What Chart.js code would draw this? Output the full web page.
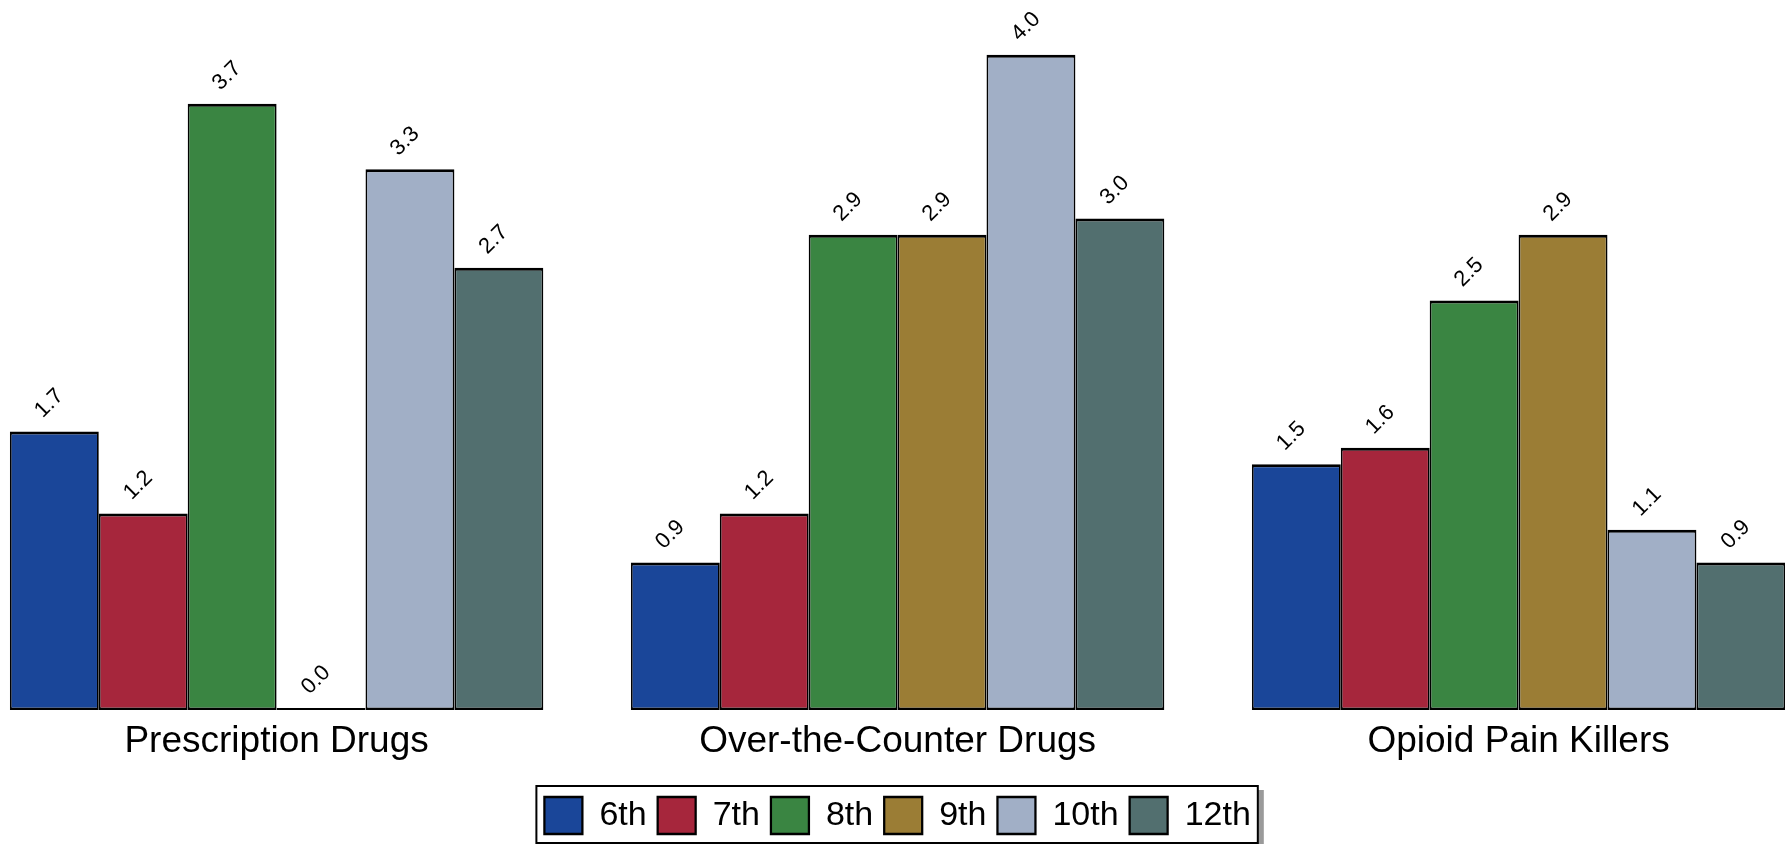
<!DOCTYPE html>
<html>
<head>
<meta charset="utf-8">
<title>Substance use by grade</title>
<script src="https://cdn.jsdelivr.net/npm/chart.js@4"></script>
<style>
  html, body { margin: 0; padding: 0; background: #fff; }
  #wrap { width: 1785px; height: 844px; position: relative; }
</style>
</head>
<body>
<div id="wrap"><canvas id="chart"></canvas></div>
<script>
// categories and per-grade values (percent)
const CATEGORIES = ["Prescription Drugs", "Over-the-Counter Drugs", "Opioid Pain Killers"];
const GRADES = ["6th", "7th", "8th", "9th", "10th", "12th"];
const GRADE_6 = [1.7, 0.9, 1.5];
const GRADE_7 = [1.2, 1.2, 1.6];
const GRADE_8 = [3.7, 2.9, 2.5];
const GRADE_9 = [0.0, 2.9, 2.9];
const GRADE_10 = [3.3, 4.0, 1.1];
const GRADE_12 = [2.7, 3.0, 0.9];
const COLORS = ["#1a4699", "#a6263c", "#3a8542", "#9b7d35", "#a1afc6", "#526f6f"];

const FONT = "'Liberation Sans', Arial, sans-serif";
const series = [GRADE_6, GRADE_7, GRADE_8, GRADE_9, GRADE_10, GRADE_12];

// rotated value labels above each bar
const valueLabels = {
  id: "valueLabels",
  afterDatasetsDraw(chart) {
    const ctx = chart.ctx;
    ctx.save();
    ctx.font = "22px " + FONT;
    ctx.fillStyle = "#000";
    ctx.textAlign = "center";
    ctx.textBaseline = "middle";
    chart.data.datasets.forEach((ds, i) => {
      const meta = chart.getDatasetMeta(i);
      meta.data.forEach((bar, j) => {
        ctx.save();
        ctx.translate(bar.x - 5, bar.y - 28);
        ctx.rotate(-Math.PI / 4);
        ctx.fillText(ds.data[j].toFixed(1), 0, 0);
        ctx.restore();
      });
    });
    ctx.restore();
  }
};

// frame + drop shadow around the legend
function legendFrame(chart) {
  const boxes = chart.legend && chart.legend.legendHitBoxes;
  if (!boxes || !boxes.length) return null;
  const left = Math.min(...boxes.map(b => b.left)) - 8;
  const right = Math.max(...boxes.map(b => b.left + b.width)) + 7;
  const top = boxes[0].top - 11;
  return { left, top, width: right - left, height: 57 };
}
const legendBox = {
  id: "legendBox",
  beforeDraw(chart) {
    const f = legendFrame(chart);
    if (!f) return;
    const ctx = chart.ctx;
    ctx.save();
    ctx.fillStyle = "#9a9a9a";
    ctx.fillRect(f.left + 6, f.top + 4, f.width, f.height);
    ctx.fillStyle = "#fff";
    ctx.fillRect(f.left, f.top, f.width, f.height);
    ctx.restore();
  },
  afterDraw(chart) {
    const f = legendFrame(chart);
    if (!f) return;
    const ctx = chart.ctx;
    ctx.save();
    ctx.strokeStyle = "#000";
    ctx.lineWidth = 2;
    ctx.strokeRect(f.left, f.top, f.width, f.height);
    ctx.restore();
  }
};

const ctx = document.getElementById("chart").getContext("2d");
new Chart(ctx, {
  type: "bar",
  data: {
    labels: CATEGORIES,
    datasets: GRADES.map((g, i) => ({
      label: g,
      data: series[i],
      backgroundColor: COLORS[i],
      borderColor: "#000",
      borderWidth: { top: 3, bottom: 2.5, left: 1.8, right: 1.8 },
      borderSkipped: false,
      minBarLength: 2,
      categoryPercentage: 0.859,
      barPercentage: 1,
      clip: false
    }))
  },
  options: {
    responsive: true,
    maintainAspectRatio: false,
    animation: false,
    layout: { padding: { top: 5.5, left: 276.6, right: 266.4, bottom: 0 } },
    scales: {
      x: {
        offset: false,
        grid: { display: false, drawTicks: false },
        border: { display: false },
        ticks: {
          color: "#000",
          font: { family: FONT, size: 37 },
          padding: 10,
          maxRotation: 0,
          autoSkip: false
        },
        afterFit: (scale) => { scale.height = 76; }
      },
      y: {
        display: false,
        min: 0,
        max: 4.3
      }
    },
    plugins: {
      legend: {
        position: "bottom",
        labels: {
          color: "#000",
          font: { family: FONT, size: 34 },
          boxWidth: 38,
          boxHeight: 37,
          padding: 11
        }
      },
      tooltip: { enabled: false }
    }
  },
  plugins: [valueLabels, legendBox]
});
</script>
</body>
</html>
